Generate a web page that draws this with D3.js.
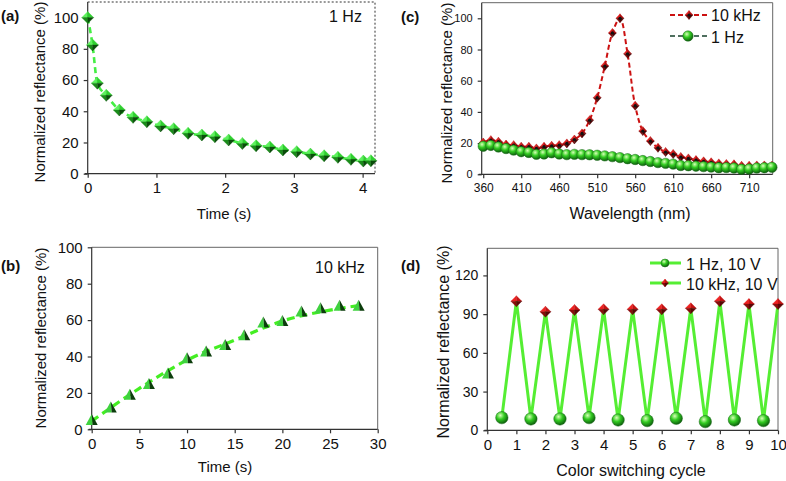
<!DOCTYPE html>
<html><head><meta charset="utf-8">
<script src="https://cdn.jsdelivr.net/npm/d3@7"></script>
<style>
body{margin:0;background:#fff;}
svg{display:block;font-family:"Liberation Sans",Arial,sans-serif;}
.axis text{fill:#111;}
</style></head><body>
<svg id="chart" width="786" height="481"></svg>
<script>
// ---- Data ----
// (a) 1 Hz decay
const aTime = [0, 0.07, 0.14, 0.27, 0.46, 0.66, 0.86, 1.06, 1.25, 1.46, 1.66, 1.85, 2.05, 2.25, 2.45, 2.65, 2.84, 3.04, 3.24, 3.44, 3.64, 3.83, 4.01, 4.12];
const aRefl = [100, 82.5, 58, 50.2, 40.8, 36.1, 33.3, 30.6, 28.8, 25.9, 24.8, 23.7, 21.6, 19.4, 17.9, 17.1, 15.2, 14.1, 12.6, 11.5, 10.5, 9.2, 8.1, 8.3];
const aTicksX = [0, 1, 2, 3, 4];
const aTicksY = [0, 20, 40, 60, 80, 100];
// (b) 10 kHz rise
const bTime = [0, 2, 4, 6, 8, 10, 12, 14, 16, 18, 20, 22, 24, 26, 28];
const bRefl = [5.1, 11.9, 18.9, 24.9, 30.6, 39, 42.7, 46.3, 51.6, 58.6, 59.5, 64.7, 66.5, 67.8, 67.8];
const bFitTime = [0, 5, 10, 15, 20, 25, 28.5];
const bFitRefl = [4.5, 22.5, 38, 49, 59.5, 65.5, 68.3];
const bTicksX = [0, 5, 10, 15, 20, 25, 30];
const bTicksY = [0, 20, 40, 60, 80, 100];
// (c) spectra
const wavelength = [360, 370, 380, 390, 400, 410, 420, 430, 440, 450, 460, 470, 480, 490, 500, 510, 520, 530, 540, 550, 560, 570, 580, 590, 600, 610, 620, 630, 640, 650, 660, 670, 680, 690, 700, 710, 720, 730, 740];
const spec10kHz = [20.4, 21.9, 20.9, 19.1, 18.7, 17.7, 17.7, 16.6, 17.7, 18.3, 18.7, 19.8, 22.3, 26.2, 34.7, 49.1, 69.4, 90.6, 100, 77.2, 44, 27.7, 21.3, 17, 14.3, 13, 11.1, 10.2, 9.1, 8.3, 7.7, 7, 6.6, 6.4, 5.5, 5.5, 5.7, 5.7, 5.5];
const spec1Hz = [18, 18.5, 17.5, 16.5, 15.5, 14.5, 14, 12.8, 13, 13.8, 13, 12.6, 12.8, 12.6, 12.5, 12.2, 11.8, 11.3, 10.7, 10, 9.5, 8.8, 8.2, 7.5, 7, 6.5, 5.6, 5.5, 5.2, 4.9, 4.6, 4.2, 4.3, 4.0, 3.2, 3.4, 4, 4.2, 4.5];
const cTicksX = [360, 410, 460, 510, 560, 610, 660, 710];
const cTicksY = [0, 20, 40, 60, 80, 100];
const cLegend = ["10 kHz", "1 Hz"];
// (d) switching cycles
const cycleLow = [0.5, 1.5, 2.5, 3.5, 4.5, 5.5, 6.5, 7.5, 8.5, 9.5];
const reflLow = [9.8, 8.8, 8.8, 9.8, 8, 7.5, 9.3, 6.7, 8, 7.5];
const cycleHigh = [1, 2, 3, 4, 5, 6, 7, 8, 9, 10];
const reflHigh = [100, 91.9, 93.2, 93.7, 93.7, 93.7, 94.5, 100, 97.8, 97.8];
const dTicksX = [0, 1, 2, 3, 4, 5, 6, 7, 8, 9, 10];
const dTicksY = [0, 30, 60, 90, 120];
const dLegend = ["1 Hz, 10 V", "10 kHz, 10 V"];

const svg = d3.select("#chart");
const defs = svg.append("defs");
function sphereGrad(id, light, mid, dark){
  const g = defs.append("radialGradient").attr("id", id).attr("cx","38%").attr("cy","32%").attr("r","70%");
  g.append("stop").attr("offset","0%").attr("stop-color",light);
  g.append("stop").attr("offset","45%").attr("stop-color",mid);
  g.append("stop").attr("offset","100%").attr("stop-color",dark);
}
sphereGrad("gsph", "#d8ffb8", "#33cc22", "#0b5a0b");

function frame(cfg){
  const g = svg.append("g");
  const x = d3.scaleLinear().domain(cfg.xd).range([cfg.l, cfg.r]);
  const y = d3.scaleLinear().domain(cfg.yd).range([cfg.b, cfg.t]);
  g.append("path").attr("d", `M${cfg.l},${cfg.t}H${cfg.r}V${cfg.b}`)
    .attr("fill","none").attr("stroke", cfg.frameColor || "#666").attr("stroke-width",1)
    .attr("stroke-dasharray", cfg.frameDash || null);
  const fmt = d3.format("d");
  const xa = g.append("g").attr("class","axis").attr("transform",`translate(0,${cfg.b})`)
    .call(d3.axisBottom(x).tickValues(cfg.xt).tickFormat(fmt).tickSize(4).tickSizeOuter(0).tickPadding(5));
  const ya = g.append("g").attr("class","axis").attr("transform",`translate(${cfg.l},0)`)
    .call(d3.axisLeft(y).tickValues(cfg.yt).tickFormat(fmt).tickSize(4).tickSizeOuter(0).tickPadding(5));
  xa.select(".domain").attr("d", `M${cfg.l-3},0H${cfg.r}`);
  ya.select(".domain").attr("d", `M0,${cfg.b}V${cfg.t}`);
  [xa, ya].forEach(a=>{
    a.selectAll("path,line").attr("stroke","#333").attr("stroke-width",1.2);
  });
  xa.selectAll("text").attr("font-size", cfg.xfs).attr("font-family","Liberation Sans, Arial, sans-serif");
  ya.selectAll("text").attr("font-size", cfg.yfs).attr("font-family","Liberation Sans, Arial, sans-serif");
  g.append("text").attr("x", cfg.xtx).attr("y", cfg.xty).attr("text-anchor","middle")
    .attr("dominant-baseline","central").attr("font-size", cfg.tfs).attr("fill","#111").text(cfg.xTitle);
  g.append("text").attr("transform",`translate(${cfg.ytx},${cfg.yty}) rotate(-90)`).attr("text-anchor","middle")
    .attr("dominant-baseline","central").attr("font-size", cfg.ytfs || cfg.tfs).attr("fill","#111").text("Normalized reflectance (%)");
  g.append("text").attr("x", cfg.lx).attr("y", cfg.ly).attr("dominant-baseline","central")
    .attr("font-size",15).attr("font-weight","bold").attr("fill","#111").text(cfg.label);
  return {g, x, y};
}

function diamond(g, cx, cy, w, h, cols){
  const hw=w/2, hh=h/2;
  const pts = [
    [[cx,cy-hh],[cx-hw,cy],[cx,cy]],
    [[cx,cy-hh],[cx+hw,cy],[cx,cy]],
    [[cx-hw,cy],[cx,cy+hh],[cx,cy]],
    [[cx+hw,cy],[cx,cy+hh],[cx,cy]]
  ];
  pts.forEach((p,i)=>g.append("path").attr("d","M"+p.join("L")+"Z").attr("fill",cols[i]).attr("stroke",cols[i]).attr("stroke-width",0.3));
}
function pyramid(g, cx, cy, w, h){
  const hw=w/2;
  const apex=[cx,cy-h*0.55], bl=[cx-hw,cy+h*0.45], br=[cx+hw,cy+h*0.45], mid=[cx+hw*0.15,cy+h*0.45];
  g.append("path").attr("d",`M${apex}L${bl}L${mid}Z`).attr("fill","#3fd23f");
  g.append("path").attr("d",`M${apex}L${mid}L${br}Z`).attr("fill","#0c3d0c");
}

// ---- Panel (a) ----
{
  const p = frame({l:87.7, r:375, t:2, b:173.7, xd:[0,4.18], yd:[0,110], xt:aTicksX, yt:aTicksY,
    xfs:15, yfs:15, tfs:15, xTitle:"Time (s)", xtx:224, xty:213, ytx:39, yty:92,
    label:"(a)", lx:1, ly:15, frameColor:"#333", frameDash:"2,2"});
  const pts = aTime.map((t,i)=>[p.x(t), p.y(aRefl[i])]);
  p.g.append("path").attr("d", d3.line().curve(d3.curveMonotoneX)(pts)).attr("fill","none")
    .attr("stroke","#44ee44").attr("stroke-width",2.6).attr("stroke-dasharray","6,4");
  const cols = ["#5ef25e","#2fcf2f","#1a8c1a","#0b4d0b"];
  pts.forEach(([cx,cy])=>diamond(p.g, cx, cy, 12, 12, cols));
  p.g.append("text").attr("x",329).attr("y",16).attr("dominant-baseline","central").attr("font-size",16).attr("fill","#111").text("1 Hz");
}
// ---- Panel (b) ----
{
  const p = frame({l:91.7, r:377.7, t:247.3, b:429.3, xd:[0,30], yd:[0,100], xt:bTicksX, yt:bTicksY,
    xfs:15, yfs:15, tfs:15, xTitle:"Time (s)", xtx:225, xty:466, ytx:40, yty:338,
    label:"(b)", lx:1, ly:265, frameColor:"#666"});
  const fit = bFitTime.map((t,i)=>[p.x(t), p.y(bFitRefl[i])]);
  p.g.append("path").attr("d", d3.line().curve(d3.curveMonotoneX)(fit)).attr("fill","none")
    .attr("stroke","#44ee22").attr("stroke-width",3.2).attr("stroke-dasharray","8,5");
  bTime.forEach((t,i)=>pyramid(p.g, p.x(t), p.y(bRefl[i]), 12, 11));
  p.g.append("text").attr("x",315).attr("y",267).attr("dominant-baseline","central").attr("font-size",16).attr("fill","#111").text("10 kHz");
}
// ---- Panel (c) ----
{
  const p = frame({l:481.7, r:772.7, t:2.7, b:174.3, xd:[358,741], yd:[0,110], xt:cTicksX, yt:cTicksY,
    xfs:12, yfs:11, tfs:16, ytfs:15, xTitle:"Wavelength (nm)", xtx:630, xty:213, ytx:446, yty:93,
    label:"(c)", lx:401, ly:16, frameColor:"#666"});
  const red = wavelength.map((w,i)=>[p.x(w), p.y(spec10kHz[i])]);
  const grn = wavelength.map((w,i)=>[p.x(w), p.y(spec1Hz[i])]);
  p.g.append("path").attr("d", d3.line().curve(d3.curveCatmullRom)(grn)).attr("fill","none")
    .attr("stroke","#4f6f5f").attr("stroke-width",2).attr("stroke-dasharray","5,3");
  p.g.append("path").attr("d", d3.line().curve(d3.curveCatmullRom)(red)).attr("fill","none")
    .attr("stroke","#cc1111").attr("stroke-width",2).attr("stroke-dasharray","5,3");
  const rcols = ["#e02020","#b01010","#7a0a0a","#4a0505"];
  red.forEach(([cx,cy])=>{ diamond(p.g,cx,cy,8,9,rcols); p.g.append("circle").attr("cx",cx).attr("cy",cy).attr("r",1.6).attr("fill","#111"); });
  grn.forEach(([cx,cy])=>p.g.append("circle").attr("cx",cx).attr("cy",cy).attr("r",5.2).attr("fill","url(#gsph)").attr("stroke","#1c6a1c").attr("stroke-width",0.5));
  const lg = p.g.append("g");
  lg.append("line").attr("x1",670).attr("x2",707).attr("y1",15).attr("y2",15).attr("stroke","#cc1111").attr("stroke-width",2).attr("stroke-dasharray","5,3");
  diamond(lg, 689, 15, 8, 9, rcols);
  lg.append("circle").attr("cx",689).attr("cy",15).attr("r",1.6).attr("fill","#111");
  lg.append("text").attr("x",711).attr("y",15).attr("dominant-baseline","central").attr("font-size",16).attr("fill","#111").text(cLegend[0]);
  lg.append("line").attr("x1",670).attr("x2",707).attr("y1",36).attr("y2",36).attr("stroke","#4f6f5f").attr("stroke-width",2).attr("stroke-dasharray","5,3");
  lg.append("circle").attr("cx",688).attr("cy",36).attr("r",5.2).attr("fill","url(#gsph)").attr("stroke","#1c6a1c").attr("stroke-width",0.5);
  lg.append("text").attr("x",711).attr("y",37).attr("dominant-baseline","central").attr("font-size",16).attr("fill","#111").text(cLegend[1]);
}
// ---- Panel (d) ----
{
  const p = frame({l:487.3, r:778, t:248.3, b:430.3, xd:[0,10], yd:[0,141], xt:dTicksX, yt:dTicksY,
    xfs:15, yfs:14, tfs:16, xTitle:"Color switching cycle", xtx:631, xty:470, ytx:443, yty:342,
    label:"(d)", lx:401, ly:265, frameColor:"#666"});
  const seq = [];
  cycleLow.forEach((c,i)=>{ seq.push([c, reflLow[i]]); seq.push([cycleHigh[i], reflHigh[i]]); });
  p.g.append("path").attr("d", d3.line().x(d=>p.x(d[0])).y(d=>p.y(d[1]))(seq)).attr("fill","none")
    .attr("stroke","#55ee33").attr("stroke-width",3).attr("stroke-linejoin","miter");
  cycleLow.forEach((c,i)=>p.g.append("circle").attr("cx",p.x(c)).attr("cy",p.y(reflLow[i])).attr("r",6.2)
    .attr("fill","url(#gsph)").attr("stroke","#1c6a1c").attr("stroke-width",0.5));
  const rcols = ["#ee2222","#c41414","#8a0c0c","#5a0606"];
  cycleHigh.forEach((c,i)=>diamond(p.g, p.x(c), p.y(reflHigh[i]), 11, 11, rcols));
  const lg = p.g.append("g");
  lg.append("line").attr("x1",650).attr("x2",681).attr("y1",263).attr("y2",263).attr("stroke","#55ee33").attr("stroke-width",3);
  lg.append("circle").attr("cx",665).attr("cy",263).attr("r",4).attr("fill","url(#gsph)").attr("stroke","#1c6a1c").attr("stroke-width",0.5);
  lg.append("text").attr("x",686).attr("y",264).attr("dominant-baseline","central").attr("font-size",16).attr("fill","#111").text(dLegend[0]);
  lg.append("line").attr("x1",650).attr("x2",681).attr("y1",283).attr("y2",283).attr("stroke","#55ee33").attr("stroke-width",3);
  diamond(lg, 665, 283, 7, 8, rcols);
  lg.append("text").attr("x",686).attr("y",284).attr("dominant-baseline","central").attr("font-size",16).attr("fill","#111").text(dLegend[1]);
}
</script></body></html>
